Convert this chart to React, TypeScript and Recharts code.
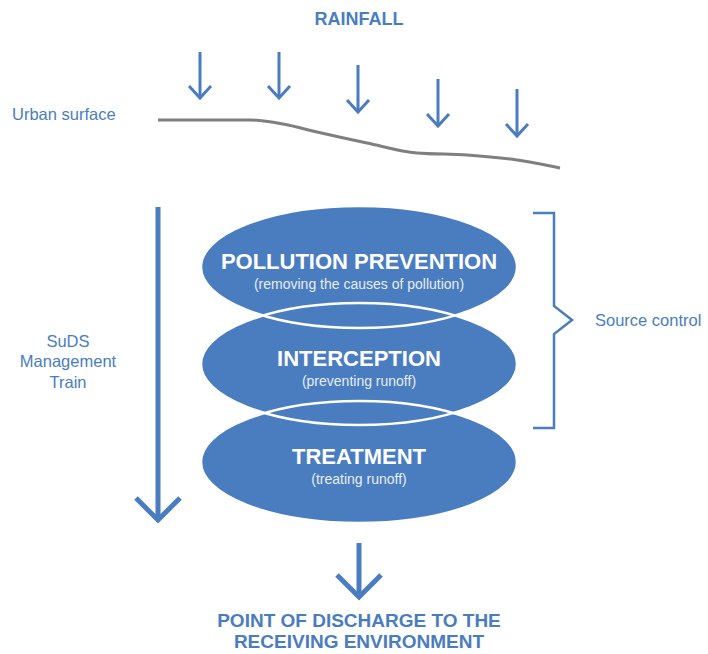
import { ComposedChart, XAxis, YAxis, Line, Scatter } from 'recharts';

const W = 708;
const H = 654;

const BLUE = '#4a7dbf';
const GREY = '#7f7f7f';
const FONT = '"Liberation Sans", Arial, sans-serif';

// diagram coordinates (x across, y downwards)
const rainX = [200, 279, 358, 438, 517];
const rainTop = [52, 52, 65, 79, 89];
const rainTip = [98, 98, 112, 126, 136];

const surfaceX = [158, 250, 283, 317, 367, 417, 467, 517, 560];
const surfaceY = [120, 120, 124, 132, 143, 153, 155, 160, 168];

const stageNames = ['POLLUTION PREVENTION', 'INTERCEPTION', 'TREATMENT'];
const stageNotes = ['(removing the causes of pollution)', '(preventing runoff)', '(treating runoff)'];
const stageX = 359;
const stageY = [267, 364, 462];

const bracketX = [533, 554, 554, 572, 554, 554, 533];
const bracketY = [213, 213, 306, 320, 334, 428, 428];

const flowX = [158, 359];
const flowTop = [207, 543];
const flowTip = [520, 597];

const trainLines = ['SuDS', 'Management', 'Train'];
const trainX = 68;
const trainY = [347, 367, 388];

const headingText = ['RAINFALL'];
const headingY = [25];
const outletLines = ['POINT OF DISCHARGE TO THE', 'RECEIVING ENVIRONMENT'];
const outletY = [627, 648];

const sideText = ['Urban surface', 'Source control'];
const sideX = [12, 595];
const sideY = [120, 326];

// one unit of the axes is one pixel here (domain == plot size)
const UNIT = H / H;
const ELLIPSE_RX = 158;
const ELLIPSE_RY = 61;

const rain = rainX.map((x, i) => ({ x, y: rainTip[i], len: rainTip[i] - rainTop[i] }));
const flow = flowX.map((x, i) => ({ x, y: flowTip[i], len: flowTip[i] - flowTop[i] }));
const surface = surfaceX.map((x, i) => ({ x, y: surfaceY[i] }));
const bracket = bracketX.map((x, i) => ({ x, y: bracketY[i] }));
const stages = stageY.map((y, i) => ({ x: stageX, y, name: stageNames[i], note: stageNotes[i] }));
const train = trainLines.map((text, i) => ({ x: trainX, y: trainY[i], text }));
const headings = headingText.map((text, i) => ({ x: stageX, y: headingY[i], text }));
const outlet = outletLines.map((text, i) => ({ x: stageX, y: outletY[i], text }));
const side = sideText.map((text, i) => ({ x: sideX[i], y: sideY[i], text }));

const arrowShape = (width: number, half: number, head: number) => (props: any) => {
  const { cx, cy, payload } = props;
  const tail = cy - payload.len * UNIT;
  return (
    <g>
      <line x1={cx} y1={tail} x2={cx} y2={cy} stroke={BLUE} strokeWidth={width} />
      <polyline
        points={`${cx - half},${cy - head} ${cx},${cy} ${cx + half},${cy - head}`}
        fill="none"
        stroke={BLUE}
        strokeWidth={width}
        strokeLinejoin="miter"
      />
    </g>
  );
};

const textShape = (style: any) => (props: any) => (
  <text x={props.cx} y={props.cy} fontFamily={FONT} {...style}>
    {props.payload.text}
  </text>
);

const ellipseFill = (props: any) => (
  <ellipse cx={props.cx} cy={props.cy} rx={ELLIPSE_RX * UNIT} ry={ELLIPSE_RY * UNIT} fill={BLUE} />
);

const ellipseEdge = (props: any) => (
  <ellipse
    cx={props.cx}
    cy={props.cy}
    rx={ELLIPSE_RX * UNIT}
    ry={ELLIPSE_RY * UNIT}
    fill="none"
    stroke="#ffffff"
    strokeWidth={2.5}
  />
);

const stageText = (props: any) => (
  <g fontFamily={FONT} textAnchor="middle">
    <text x={props.cx} y={props.cy + 2} fontSize={22} fontWeight="bold" fill="#ffffff">
      {props.payload.name}
    </text>
    <text x={props.cx} y={props.cy + 22} fontSize={14} fill="#e6edf7">
      {props.payload.note}
    </text>
  </g>
);

export default function App() {
  return (
    <div style={{ position: 'absolute', left: 0, top: 0, background: '#fff' }}>
      <ComposedChart width={W} height={H} margin={{ top: 0, right: 0, bottom: 0, left: 0 }}>
        <XAxis type="number" dataKey="x" domain={[0, W]} allowDataOverflow hide />
        <YAxis type="number" dataKey="y" domain={[0, H]} allowDataOverflow reversed hide />

        <Line
          data={surface}
          dataKey="y"
          type="monotone"
          stroke={GREY}
          strokeWidth={3}
          dot={false}
          activeDot={false}
          isAnimationActive={false}
        />
        <Line
          data={bracket}
          dataKey="y"
          type="linear"
          stroke={BLUE}
          strokeWidth={2.5}
          strokeLinejoin="miter"
          dot={false}
          activeDot={false}
          isAnimationActive={false}
        />

        <Scatter data={rain} shape={arrowShape(3, 11, 12)} isAnimationActive={false} />
        <Scatter data={flow} shape={arrowShape(5, 22, 22)} isAnimationActive={false} />

        <Scatter data={stages} shape={ellipseFill} isAnimationActive={false} />
        <Scatter data={stages} shape={ellipseEdge} isAnimationActive={false} />
        <Scatter data={stages} shape={stageText} isAnimationActive={false} />

        <Scatter
          data={headings}
          shape={textShape({ fontSize: 18, fontWeight: 'bold', fill: BLUE, textAnchor: 'middle' })}
          isAnimationActive={false}
        />
        <Scatter
          data={outlet}
          shape={textShape({ fontSize: 19, fontWeight: 'bold', fill: BLUE, textAnchor: 'middle' })}
          isAnimationActive={false}
        />
        <Scatter
          data={side}
          shape={textShape({ fontSize: 16.5, fill: BLUE, textAnchor: 'start' })}
          isAnimationActive={false}
        />
        <Scatter
          data={train}
          shape={textShape({ fontSize: 16.5, fill: BLUE, textAnchor: 'middle' })}
          isAnimationActive={false}
        />
      </ComposedChart>
    </div>
  );
}
